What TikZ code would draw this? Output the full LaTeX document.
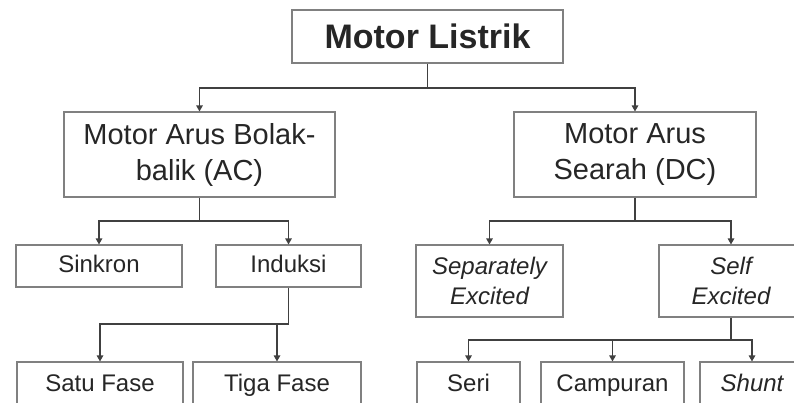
\documentclass[tikz,border=0pt]{standalone}
\usepackage{fontspec}
\setmainfont{Liberation Sans}
\usetikzlibrary{arrows.meta}
\begin{document}
\begin{tikzpicture}[x=1pt,y=-1pt,
  box/.style={draw=black!50,line width=1.1pt,fill=white,inner sep=0pt,align=center,text=black!85,
    font=\fontsize{24}{30}\selectfont},
  one/.style={box,execute at begin node=\strut},
  big/.style={box,font=\fontsize{29}{36}\selectfont},
  conn/.style={draw=black!75,line width=1.2pt},
  arr/.style={conn,-{Triangle[length=6pt,width=6.5pt]}}]
\useasboundingbox (0,0) rectangle (794,403);
\clip (0,0) rectangle (794,403);
\fill[white] (0,0) rectangle (794,403);
% nodes
\node[box,minimum width=271,minimum height=53,font=\fontsize{34}{40}\selectfont\bfseries] (top) at (427.5,36.5) {Motor Listrik};
\node[big,minimum width=271,minimum height=85] (ac) at (199.5,154.5) {Motor Arus Bolak-\\balik (AC)};
\node[big,minimum width=242,minimum height=85] (dc) at (635,154.5) {Motor Arus\\Searah (DC)};
\node[one,minimum width=166,minimum height=42] (sink) at (99,266) {Sinkron};
\node[one,minimum width=145,minimum height=42] (ind) at (288.5,266) {Induksi};
\node[one,minimum width=166,minimum height=46] (satu) at (100,385) {Satu Fase};
\node[one,minimum width=168,minimum height=46] (tiga) at (277,385) {Tiga Fase};
\node[box,minimum width=147,minimum height=72] (sep) at (489.5,281) {\itshape Separately\\\itshape Excited};
\node[box,minimum width=144,minimum height=72] (self) at (731,281) {\itshape Self\\\itshape Excited};
\node[one,minimum width=103,minimum height=46] (seri) at (468.5,385) {Seri};
\node[one,minimum width=143,minimum height=46] (camp) at (612.5,385) {Campuran};
\node[one,minimum width=104,minimum height=46] (shunt) at (752,385) {\itshape Shunt};
% junctions
\coordinate (j1) at (427.5,88);
\coordinate (j2) at (199.5,221);
\coordinate (j3) at (288.5,324);
\coordinate (j4) at (635,221);
\coordinate (j5) at (731,340);
% connectors
\draw[conn] (top.south) -- (j1);
\draw[arr] (j1) -| (ac.north);
\draw[arr] (j1) -| (dc.north);
\draw[conn] (ac.south) -- (j2);
\draw[arr] (j2) -| (sink.north);
\draw[arr] (j2) -| (ind.north);
\draw[conn] (ind.south) -- (j3);
\draw[arr] (j3) -| (satu.north);
\draw[arr] (tiga.north |- j3) -- (tiga.north);
\draw[conn] (dc.south) -- (j4);
\draw[arr] (j4) -| (sep.north);
\draw[arr] (j4) -| (self.north);
\draw[conn] (self.south) -- (j5);
\draw[arr] (j5) -| (seri.north);
\draw[arr] (j5) -| (shunt.north);
\draw[arr] (camp.north |- j5) -- (camp.north);
\end{tikzpicture}
\end{document}
